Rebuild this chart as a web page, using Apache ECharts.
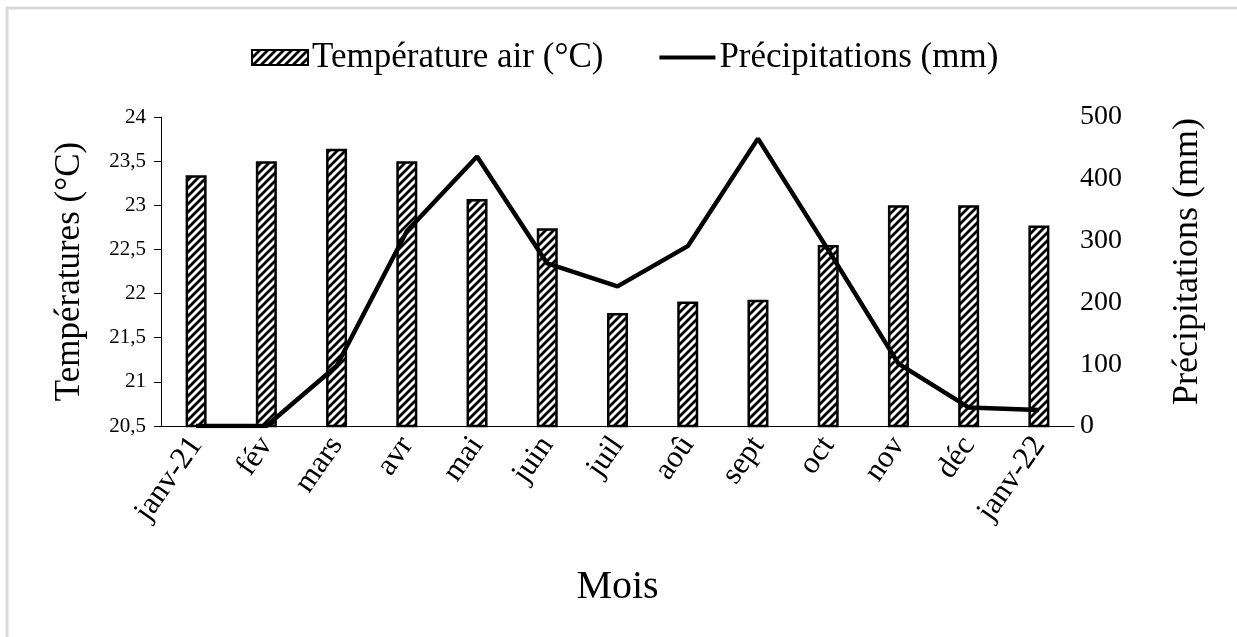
<!DOCTYPE html>
<html>
<head>
<meta charset="utf-8">
<script src="https://cdn.jsdelivr.net/npm/echarts@6/dist/echarts.min.js"></script>
<style>
  html, body { margin: 0; padding: 0; background: #fff; }
  #chart { width: 1237px; height: 637px; }
</style>
</head>
<body>
<div id="chart"></div>
<script>
// mois
let months = ['janv-21', 'fév', 'mars', 'avr', 'mai', 'juin', 'juil', 'aoû', 'sept', 'oct', 'nov', 'déc', 'janv-22'];
// température air (°C)
let temperature = [23.34, 23.5, 23.64, 23.5, 23.07, 22.74, 21.78, 21.91, 21.93, 22.55, 23.0, 23.0, 22.77];
// précipitations (mm)
let precipitation = [0, 0, 97, 315, 436, 263, 226, 291, 465, 285, 101, 30, 26];

let serif = 'Liberation Serif';

// motif hachuré des barres
function hatch() {
    let size = 8;
    let c = document.createElement('canvas');
    c.width = size;
    c.height = size;
    let ctx = c.getContext('2d');
    ctx.fillStyle = '#fff';
    ctx.fillRect(0, 0, size, size);
    ctx.strokeStyle = '#000';
    ctx.lineWidth = 2.8;
    ctx.beginPath();
    ctx.moveTo(-1, size + 1);
    ctx.lineTo(size + 1, -1);
    ctx.moveTo(-size / 2 - 1, size / 2 + 1);
    ctx.lineTo(size / 2 + 1, -size / 2 - 1);
    ctx.moveTo(size / 2 - 1, size * 1.5 + 1);
    ctx.lineTo(size * 1.5 + 1, size / 2 - 1);
    ctx.stroke();
    return c;
}

let pattern = { image: hatch(), repeat: 'repeat' };

// trait de légende (petits points aux coins pour garder la boîte 56x15)
let lineIcon = 'path://M0,0L0.1,0L0.1,0.1Z M0,5.5H56V9.5H0Z M55.9,15L56,15L56,14.9Z';

let option = {
    animation: false,
    backgroundColor: '#fff',
    textStyle: { fontFamily: serif, color: '#000' },
    graphic: [
        { type: 'line', shape: { x1: 6, y1: 8, x2: 1237, y2: 8 }, style: { stroke: '#d9d9d9', lineWidth: 3 } },
        { type: 'line', shape: { x1: 7, y1: 7, x2: 7, y2: 637 }, style: { stroke: '#d9d9d9', lineWidth: 3 } }
    ],
    legend: {
        top: 35,
        left: 246,
        itemWidth: 56,
        itemHeight: 15,
        itemGap: 56,
        textStyle: { fontFamily: serif, fontSize: 35, color: '#000', padding: [0, 0, 0, -1] },
        data: [
            { name: 'Température air (°C)', icon: 'rect' },
            { name: 'Précipitations (mm)', icon: lineIcon, itemStyle: { color: '#000' } }
        ]
    },
    grid: {
        left: 161,
        right: 163,
        top: 117,
        bottom: 211
    },
    xAxis: {
        type: 'category',
        data: months,
        name: 'Mois',
        nameLocation: 'middle',
        nameGap: 141,
        nameTextStyle: { fontFamily: serif, fontSize: 40, color: '#000' },
        axisLine: { lineStyle: { color: '#000', width: 1 } },
        axisTick: { length: 8, lineStyle: { color: '#000' } },
        axisLabel: { rotate: 55, fontFamily: serif, fontSize: 31, color: '#000', margin: 14 }
    },
    yAxis: [
        {
            type: 'value',
            min: 20.5,
            max: 24,
            interval: 0.5,
            name: 'Températures (°C)',
            nameLocation: 'middle',
            nameRotate: 90,
            nameGap: 74,
            nameTextStyle: { fontFamily: serif, fontSize: 35, color: '#000' },
            axisLine: { show: true, lineStyle: { color: '#000', width: 1 } },
            axisTick: { show: true, length: 7, lineStyle: { color: '#000' } },
            splitLine: { show: false },
            axisLabel: {
                fontFamily: serif,
                fontSize: 21,
                color: '#000',
                margin: 15,
                formatter: function (v) {
                    return String(v).replace('.', ',');
                }
            }
        },
        {
            type: 'value',
            min: 0,
            max: 500,
            interval: 100,
            position: 'right',
            name: 'Précipitations (mm)',
            nameLocation: 'middle',
            nameRotate: 90,
            nameGap: 96,
            nameTextStyle: { fontFamily: serif, fontSize: 36, color: '#000', padding: [0, 0, 0, 20] },
            axisLine: { show: false },
            axisTick: { show: false },
            splitLine: { show: false },
            axisLabel: { fontFamily: serif, fontSize: 28, color: '#000', margin: 6 }
        }
    ],
    series: [
        {
            name: 'Température air (°C)',
            type: 'bar',
            yAxisIndex: 0,
            barWidth: 21,
            itemStyle: { color: pattern, borderColor: '#000', borderWidth: 2.5 },
            data: temperature
        },
        {
            name: 'Précipitations (mm)',
            type: 'line',
            yAxisIndex: 1,
            symbol: 'none',
            z: 5,
            lineStyle: { color: '#000', width: 4.5 },
            itemStyle: { color: '#000' },
            data: precipitation
        }
    ]
};

let myChart = echarts.init(document.getElementById('chart'));
myChart.setOption(option);
</script>
</body>
</html>
